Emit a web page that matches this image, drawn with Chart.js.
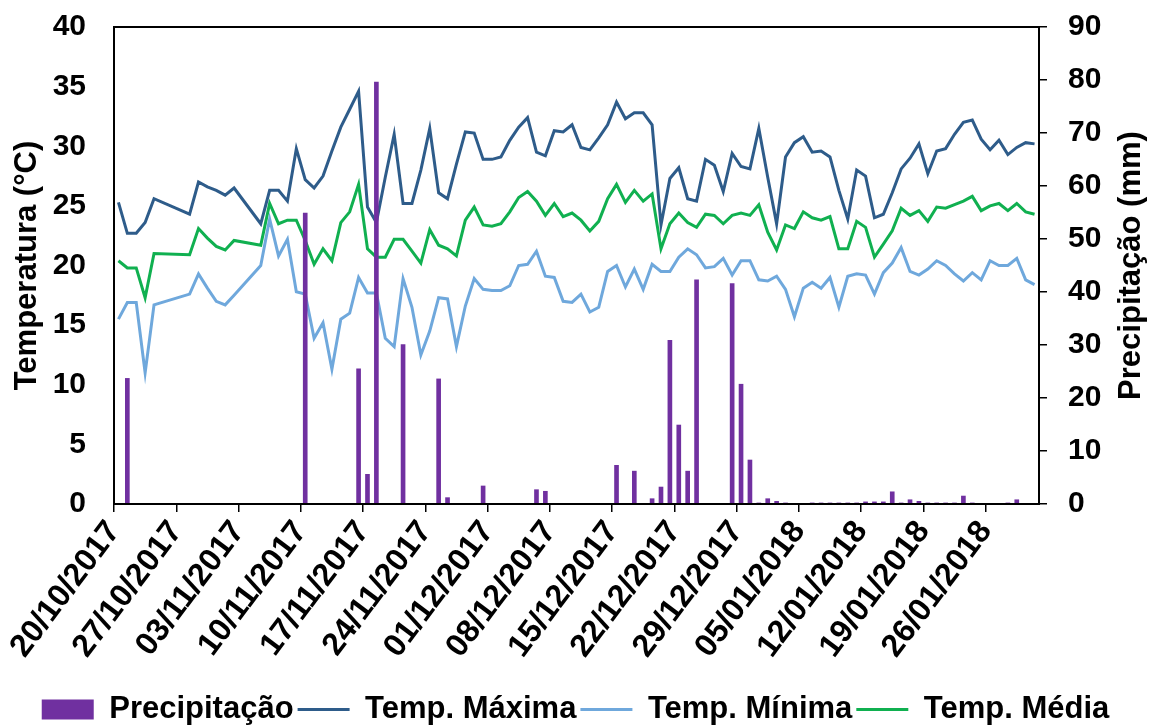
<!DOCTYPE html>
<html>
<head>
<meta charset="utf-8">
<script src="https://cdn.jsdelivr.net/npm/chart.js@4"></script>
<style>
  html, body { margin: 0; padding: 0; background: #fff; }
</style>
</head>
<body>
<canvas id="climateChart" width="1151" height="727"></canvas>
<script>
// one value per day, 20/10/2017 .. 31/01/2018 (null = no reading)
const tickLabels = [
  '20/10/2017', '27/10/2017', '03/11/2017', '10/11/2017', '17/11/2017',
  '24/11/2017', '01/12/2017', '08/12/2017', '15/12/2017', '22/12/2017',
  '29/12/2017', '05/01/2018', '12/01/2018', '19/01/2018', '26/01/2018',
];

const tempMax = [
  25.3, 22.7, 22.7, 23.6, 25.6, null, null, null, 24.3, 27.0,
  26.6, 26.3, 25.9, 26.5, null, null, 23.5, 26.3, 26.3, 25.4,
  29.8, 27.2, 26.5, 27.5, 29.6, 31.6, 33.1, 34.6, 24.9, 23.6,
  27.4, 31.0, 25.2, 25.2, 28.0, 31.5, 26.1, 25.6, 28.5, 31.2,
  31.1, 28.9, 28.9, 29.1, 30.5, 31.6, 32.4, 29.5, 29.2, 31.3,
  31.2, 31.8, 29.9, 29.7, 30.7, 31.8, 33.7, 32.3, 32.8, 32.8,
  31.8, 23.4, 27.3, 28.2, 25.6, 25.4, 28.9, 28.4, 26.2, 29.4,
  28.3, 28.1, 31.5, 27.4, 23.5, 29.1, 30.3, 30.8, 29.5, 29.6,
  29.1, 26.3, 23.9, 28.0, 27.5, 24.0, 24.3, 26.1, 28.1, 29.0,
  30.2, 27.7, 29.6, 29.8, 31.0, 32.0, 32.2, 30.6, 29.7, 30.5,
  29.3, 29.9, 30.3, 30.2,
];

const tempMin = [
  15.5, 16.9, 16.9, 11.0, 16.7, null, null, null, 17.6, 19.3,
  18.1, 17.0, 16.7, 17.5, null, null, 20.0, 23.9, 20.8, 22.2,
  17.8, 17.6, 13.9, 15.2, 11.3, 15.5, 16.0, 19.0, 17.7, 17.7,
  13.9, 13.2, 18.9, 16.5, 12.5, 14.5, 17.3, 17.2, 13.2, 16.6,
  18.9, 18.0, 17.9, 17.9, 18.3, 20.0, 20.1, 21.2, 19.1, 19.0,
  17.0, 16.9, 17.6, 16.1, 16.5, 19.5, 20.0, 18.2, 19.7, 18.0,
  20.1, 19.5, 19.5, 20.7, 21.4, 20.9, 19.8, 19.9, 20.6, 19.2,
  20.4, 20.4, 18.8, 18.7, 19.1, 18.0, 15.7, 18.1, 18.6, 18.1,
  19.0, 16.5, 19.1, 19.3, 19.2, 17.6, 19.4, 20.2, 21.5, 19.5,
  19.2, 19.7, 20.4, 20.0, 19.3, 18.7, 19.4, 18.8, 20.4, 20.0,
  20.0, 20.6, 18.8, 18.4,
];

const tempMed = [
  20.4, 19.8, 19.8, 17.3, 21.0, null, null, null, 20.9, 23.1,
  22.3, 21.6, 21.3, 22.1, null, null, 21.7, 25.2, 23.5, 23.8,
  23.8, 22.1, 20.1, 21.4, 20.4, 23.6, 24.5, 26.8, 21.4, 20.7,
  20.7, 22.2, 22.2, 21.2, 20.2, 23.0, 21.7, 21.4, 20.8, 23.8,
  24.9, 23.4, 23.3, 23.5, 24.5, 25.7, 26.2, 25.4, 24.2, 25.2,
  24.1, 24.4, 23.8, 22.9, 23.7, 25.6, 26.8, 25.3, 26.3, 25.4,
  26.0, 21.4, 23.5, 24.4, 23.6, 23.2, 24.3, 24.2, 23.5, 24.2,
  24.4, 24.2, 25.1, 22.8, 21.3, 23.4, 23.1, 24.5, 24.0, 23.8,
  24.1, 21.4, 21.4, 23.7, 23.2, 20.7, 21.8, 22.9, 24.8, 24.2,
  24.6, 23.7, 24.9, 24.8, 25.1, 25.4, 25.8, 24.6, 25.0, 25.2,
  24.6, 25.2, 24.5, 24.3,
];

const precip = [
  0, 23.7, 0, 0, 0, 0, 0, 0, 0, 0,
  0, 0, 0, 0, 0, 0, 0, 0, 0, 0,
  0, 54.9, 0, 0, 0, 0, 0, 25.5, 5.6, 79.6,
  0, 0, 30.1, 0, 0, 0, 23.6, 1.2, 0, 0,
  0, 3.4, 0, 0, 0, 0, 0, 2.7, 2.4, 0,
  0, 0, 0, 0, 0, 0, 7.3, 0, 6.2, 0,
  1.0, 3.2, 30.9, 14.9, 6.2, 42.3, 0, 0, 0, 41.6,
  22.6, 8.3, 0.2, 1.0, 0.5, 0.2, 0, 0, 0.2, 0.2,
  0.2, 0.2, 0.2, 0.2, 0.4, 0.4, 0.4, 2.3, 0.2, 0.8,
  0.5, 0.2, 0.2, 0.2, 0.2, 1.5, 0.2, 0, 0, 0,
  0.2, 0.8, 0, 0,
];

const FONT = "'Liberation Sans', Arial, sans-serif";
const boldFont = (size) => ({ family: FONT, weight: 'bold', size });

// each day sits in the middle of its slot, ticks mark the day boundaries
const toPoints = (values) => values.map((y, i) => ({ x: i + 0.5, y }));

// fixed axis box size, no extra room for the end labels
const fixWidth = (width) => (axis) => {
  axis.width = width;
  axis.paddingTop = 0;
  axis.paddingBottom = 0;
};

const frameAndTitles = {
  id: 'frameAndTitles',
  afterDraw(chart) {
    const { ctx, chartArea: a } = chart;
    ctx.save();
    ctx.strokeStyle = '#000';
    ctx.lineWidth = 2;
    ctx.strokeRect(a.left, a.top, a.right - a.left, a.bottom - a.top);

    ctx.fillStyle = '#000';
    ctx.font = `bold 31px ${FONT}`;
    ctx.textAlign = 'center';
    ctx.textBaseline = 'middle';
    const midY = (a.top + a.bottom) / 2;
    [[27, 'Temperatura (°C)'], [1131, 'Precipitação (mm)']].forEach(([x, text]) => {
      ctx.save();
      ctx.translate(x, midY);
      ctx.rotate(-Math.PI / 2);
      ctx.fillText(text, 0, 0);
      ctx.restore();
    });
    ctx.restore();
  },
};

const ctx = document.getElementById('climateChart');

new Chart(ctx, {
  type: 'bar',
  data: {
    datasets: [
      {
        type: 'bar',
        label: 'Precipitação',
        data: toPoints(precip),
        yAxisID: 'y1',
        backgroundColor: '#7030a0',
        barThickness: 4,
        order: 0,
      },
      {
        type: 'line',
        label: 'Temp. Máxima',
        data: toPoints(tempMax),
        yAxisID: 'y',
        borderColor: '#2e5c8a',
        borderWidth: 3,
        pointRadius: 0,
        tension: 0,
        spanGaps: true,
        order: 1,
      },
      {
        type: 'line',
        label: 'Temp. Mínima',
        data: toPoints(tempMin),
        yAxisID: 'y',
        borderColor: '#6fa8dc',
        borderWidth: 3,
        pointRadius: 0,
        tension: 0,
        spanGaps: true,
        order: 2,
      },
      {
        type: 'line',
        label: 'Temp. Média',
        data: toPoints(tempMed),
        yAxisID: 'y',
        borderColor: '#10b050',
        borderWidth: 3,
        pointRadius: 0,
        tension: 0,
        spanGaps: true,
        order: 3,
      },
    ],
  },
  options: {
    responsive: false,
    animation: false,
    devicePixelRatio: 1,
    layout: { padding: { top: 27, left: 0, right: 0, bottom: -8 } },
    scales: {
      x: {
        type: 'linear',
        min: 0,
        max: precip.length,
        offset: false,
        afterBuildTicks: (axis) => {
          axis.ticks = tickLabels.map((_, k) => ({ value: k * 7 }));
        },
        afterFit: (axis) => { axis.height = 186; },
        grid: { offset: false, drawOnChartArea: false, drawTicks: true, tickLength: 8, color: '#000', lineWidth: 1.5 },
        border: { display: false },
        ticks: {
          autoSkip: false,
          minRotation: 53,
          maxRotation: 53,
          padding: 2,
          color: '#000',
          font: boldFont(32),
          callback: (value) => tickLabels[value / 7],
        },
      },
      y: {
        position: 'left',
        min: 0,
        max: 40,
        afterFit: fixWidth(114),
        grid: { display: false },
        border: { display: false },
        ticks: { stepSize: 5, padding: 20, color: '#000', font: boldFont(30) },
      },
      y1: {
        position: 'right',
        min: 0,
        max: 90,
        afterFit: fixWidth(112),
        grid: { drawOnChartArea: false, drawTicks: true, tickLength: 8, color: '#000', lineWidth: 1.5 },
        border: { display: false },
        ticks: { stepSize: 10, padding: 21, color: '#000', font: boldFont(30) },
      },
    },
    plugins: {
      tooltip: { enabled: false },
      legend: {
        position: 'bottom',
        labels: {
          usePointStyle: true,
          pointStyleWidth: 52,
          boxHeight: 20,
          padding: 4,
          color: '#000',
          font: boldFont(31),
          generateLabels: (chart) =>
            Chart.defaults.plugins.legend.labels.generateLabels(chart).map((item) => ({
              ...item,
              pointStyle: item.datasetIndex === 0 ? 'rect' : 'line',
              lineWidth: item.datasetIndex === 0 ? 0 : 3,
            })),
        },
      },
    },
  },
  plugins: [frameAndTitles],
});
</script>
</body>
</html>
